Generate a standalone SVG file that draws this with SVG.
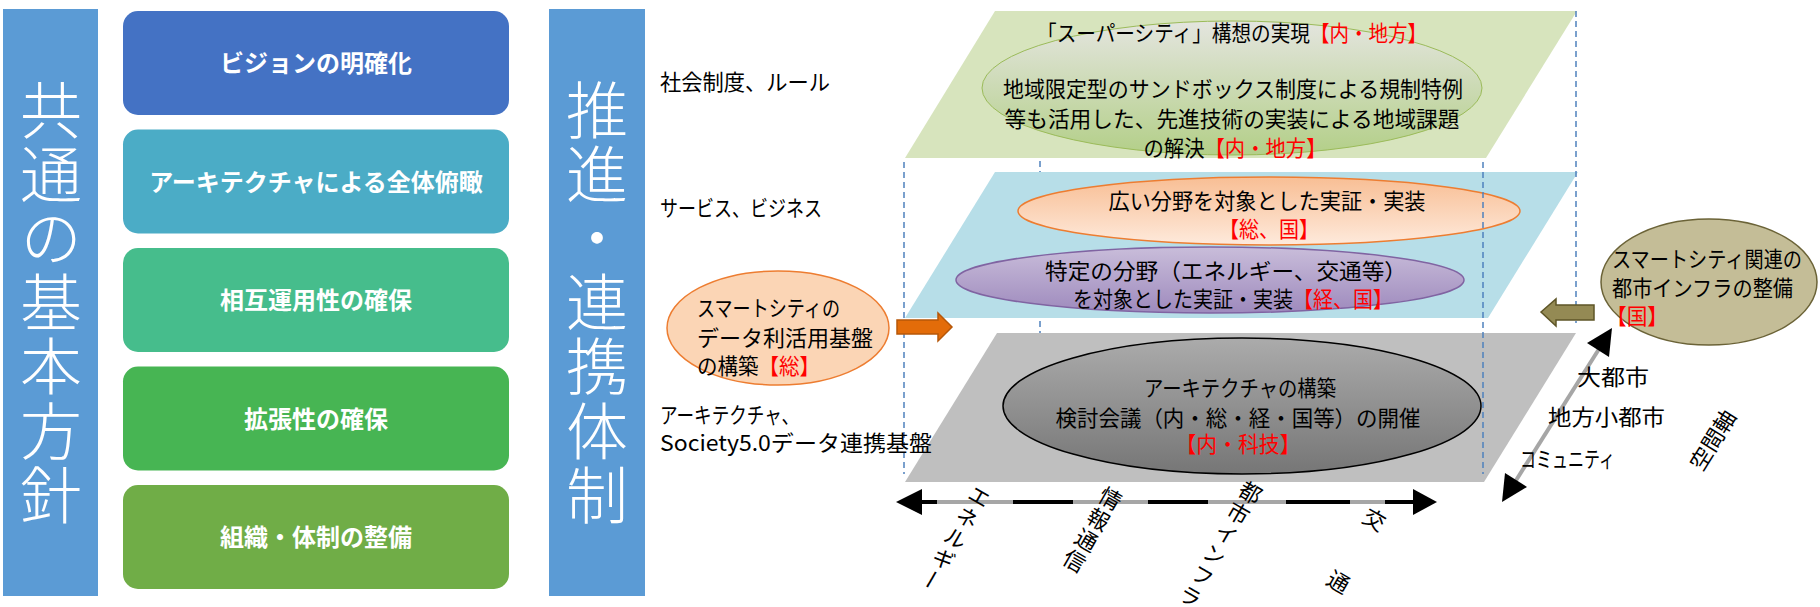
<svg xmlns="http://www.w3.org/2000/svg" width="1820" height="607" viewBox="0 0 1820 607">
<defs>
<style>
.box{font-family:"Noto Sans CJK JP",sans-serif;font-weight:bold;font-size:24px;fill:#fff;text-anchor:middle;}
.bar{font-family:"Noto Sans CJK JP",sans-serif;font-weight:300;font-size:62px;fill:#fff;writing-mode:vertical-rl;letter-spacing:2.2px;}
.t{font-family:"Noto Sans CJK JP",sans-serif;font-size:22px;fill:#000;}
.c{text-anchor:middle;}
.r{fill:#ff0000;}
.dash{stroke:#4f81bd;stroke-width:1.5;stroke-dasharray:6 4;fill:none;}
.vt{font-family:"Noto Sans CJK JP",sans-serif;font-size:22px;fill:#000;writing-mode:vertical-rl;letter-spacing:2px;}
</style>
<linearGradient id="gG" x1="0" y1="0" x2="0" y2="1"><stop offset="0" stop-color="#e4e5df"/><stop offset="1" stop-color="#b3cf88"/></linearGradient>
<linearGradient id="gO" x1="0" y1="0" x2="0" y2="1"><stop offset="0" stop-color="#f8be94"/><stop offset="1" stop-color="#feeadc"/></linearGradient>
<linearGradient id="gP" x1="0" y1="0" x2="0" y2="1"><stop offset="0" stop-color="#c9bdda"/><stop offset="1" stop-color="#9e8abd"/></linearGradient>
<linearGradient id="gK" x1="0" y1="0" x2="0" y2="1"><stop offset="0" stop-color="#ababab"/><stop offset="1" stop-color="#767676"/></linearGradient>
</defs>
<rect width="1820" height="607" fill="#fff"/>

<g id="bar-kihon">
<rect x="3" y="9" width="95" height="587" fill="#5b9bd5"/>
<text class="bar" x="51" y="79">共通の基本方針</text>
</g>
<g id="box1"><rect x="123" y="11" width="386" height="104" rx="15" fill="#4472c4"/><text class="box" x="316" y="72">ビジョンの明確化</text></g>
<g id="box2"><rect x="123" y="129.5" width="386" height="104" rx="15" fill="#4bacc6"/><text class="box" x="316" y="190.5">アーキテクチャによる全体俯瞰</text></g>
<g id="box3"><rect x="123" y="248" width="386" height="104" rx="15" fill="#46bd8c"/><text class="box" x="316" y="309">相互運用性の確保</text></g>
<g id="box4"><rect x="123" y="366.5" width="386" height="104" rx="15" fill="#47b553"/><text class="box" x="316" y="427.5">拡張性の確保</text></g>
<g id="box5"><rect x="123" y="485" width="386" height="104" rx="15" fill="#70ad47"/><text class="box" x="316" y="546">組織・体制の整備</text></g>

<g id="bar-suishin">
<rect x="549" y="9" width="96" height="587" fill="#5b9bd5"/>
<text class="bar" x="597" y="79">推進・連携体制</text>
</g>

<g id="back-edge"><line class="dash" x1="1040" y1="11" x2="1040" y2="333"/></g>

<g id="layer-social">
<polygon points="995,11 1577,11 1486,158 905,158" fill="#d7e4bd"/>
<ellipse cx="1232" cy="88" rx="250" ry="67" fill="url(#gG)" stroke="#9bbb59" stroke-width="1"/>
<text class="t" x="1037" y="41" font-size="21" textLength="273" lengthAdjust="spacingAndGlyphs">「スーパーシティ」構想の実現</text>
<text class="t r" x="1310" y="41" font-size="21" textLength="117" lengthAdjust="spacingAndGlyphs">【内・地方】</text>
<text class="t c" x="1233" y="96.5" textLength="460" lengthAdjust="spacingAndGlyphs">地域限定型のサンドボックス制度による規制特例</text>
<text class="t c" x="1232" y="126.5" textLength="455" lengthAdjust="spacingAndGlyphs">等も活用した、先進技術の実装による地域課題</text>
<text class="t" x="1143.5" y="155.5" textLength="61" lengthAdjust="spacingAndGlyphs">の解決</text>
<text class="t r" x="1204.5" y="155.5" textLength="122" lengthAdjust="spacingAndGlyphs">【内・地方】</text>
</g>

<g id="layer-service">
<polygon points="995,172 1578,172 1488,318 905,318" fill="#b7dee8"/>
<ellipse cx="1269" cy="211" rx="251" ry="34" fill="url(#gO)" stroke="#ed7d31" stroke-width="1.5"/>
<text class="t c" x="1267" y="208.5" textLength="317" lengthAdjust="spacingAndGlyphs">広い分野を対象とした実証・実装</text>
<text class="t c r" x="1269" y="236.5" textLength="100" lengthAdjust="spacingAndGlyphs">【総、国】</text>
<ellipse cx="1210" cy="280" rx="254" ry="33" fill="url(#gP)" stroke="#8064a2" stroke-width="1.5"/>
<text class="t c" x="1226" y="278.5" textLength="362" lengthAdjust="spacingAndGlyphs">特定の分野（エネルギー、交通等）</text>
<text class="t" x="1073" y="306.5" textLength="220" lengthAdjust="spacingAndGlyphs">を対象とした実証・実装</text>
<text class="t r" x="1293" y="306.5" textLength="100" lengthAdjust="spacingAndGlyphs">【経、国】</text>
</g>

<g id="layer-arch">
<polygon points="997,333 1576,333 1484,482 905,482" fill="#bfbfbf"/>
<ellipse cx="1242" cy="406" rx="239" ry="68" fill="url(#gK)" stroke="#000" stroke-width="1.5"/>
<text class="t c" x="1240" y="395.5" textLength="192" lengthAdjust="spacingAndGlyphs">アーキテクチャの構築</text>
<text class="t c" x="1238" y="425.5" textLength="365" lengthAdjust="spacingAndGlyphs">検討会議（内・総・経・国等）の開催</text>
<text class="t c r" x="1238" y="451.5" textLength="125" lengthAdjust="spacingAndGlyphs">【内・科技】</text>
</g>

<g id="front-edges">
<line class="dash" x1="904" y1="162" x2="904" y2="474"/>
<line class="dash" x1="1483" y1="162" x2="1483" y2="474"/>
<line class="dash" x1="1576" y1="11" x2="1576" y2="323"/>
</g>

<g id="labels">
<text class="t" x="660" y="90" textLength="170" lengthAdjust="spacingAndGlyphs">社会制度、ルール</text>
<text class="t" x="660" y="216" textLength="162" lengthAdjust="spacingAndGlyphs">サービス、ビジネス</text>
<text class="t" x="660" y="423" textLength="139" lengthAdjust="spacingAndGlyphs">アーキテクチャ、</text>
<text class="t" x="660" y="451" textLength="272" lengthAdjust="spacingAndGlyphs">Society5.0データ連携基盤</text>
</g>

<g id="data-platform">
<ellipse cx="778" cy="328" rx="111" ry="57" fill="#fbd5b5" stroke="#ed7d31" stroke-width="1.5"/>
<text class="t" x="697" y="315.5" textLength="143" lengthAdjust="spacingAndGlyphs">スマートシティの</text>
<text class="t" x="697" y="345.5" textLength="176" lengthAdjust="spacingAndGlyphs">データ利活用基盤</text>
<text class="t" x="697" y="373.5" textLength="61.5" lengthAdjust="spacingAndGlyphs">の構築</text>
<text class="t r" x="758.5" y="373.5" textLength="61.5" lengthAdjust="spacingAndGlyphs">【総】</text>
</g>

<g id="infra">
<ellipse cx="1709" cy="282" rx="108" ry="63" fill="#c4bd97" stroke="#6b6337" stroke-width="1.5"/>
<text class="t" x="1612" y="266.5" textLength="190" lengthAdjust="spacingAndGlyphs">スマートシティ関連の</text>
<text class="t" x="1612" y="295.5" textLength="181" lengthAdjust="spacingAndGlyphs">都市インフラの整備</text>
<text class="t r" x="1606" y="323.5" textLength="62" lengthAdjust="spacingAndGlyphs">【国】</text>
</g>

<g id="connectors">
<path d="M897,320 H938 V313 L952,327 L938,341 V334 H897 Z" fill="#e36c09" stroke="#b65708" stroke-width="1.5"/>
<path d="M1541,312 L1556,299 V305 H1594 V320 H1556 V326 Z" fill="#948a54" stroke="#5e5527" stroke-width="1.5"/>
<line x1="920" y1="502" x2="1416" y2="502" stroke="#a6a6a6" stroke-width="4"/>
<path d="M920,502 H937 M1013,502 H1073 M1148,502 H1208 M1286,502 H1350 M1385,502 H1416" stroke="#000" stroke-width="4"/>
<polygon points="896,502 922,489 922,515" fill="#000"/>
<polygon points="1437,502 1413,489 1413,515" fill="#000"/>
<line x1="1599" y1="349" x2="1515" y2="482" stroke="#a6a6a6" stroke-width="4"/>
<polygon points="1612,328 1609,357 1587,343" fill="#000"/>
<polygon points="1502,502 1527,487 1505,473" fill="#000"/>
</g>

<g id="axis-labels">
<text class="t" x="1577" y="385" textLength="72" lengthAdjust="spacingAndGlyphs">大都市</text>
<text class="t" x="1548" y="425" textLength="117" lengthAdjust="spacingAndGlyphs">地方小都市</text>
<text class="t" x="1520" y="467" font-size="18" textLength="95" lengthAdjust="spacingAndGlyphs">コミュニティ</text>
<text class="t c" transform="translate(1713,440) rotate(-58)" x="0" y="8" font-size="21">空間軸</text>
<text class="vt" transform="translate(985,487) rotate(30)" x="0" y="0">エネルギー</text>
<text class="vt" transform="translate(1116,489) rotate(30)" x="0" y="0">情報通信</text>
<text class="vt" transform="translate(1256,483) rotate(30)" x="0" y="0">都市インフラ</text>
<text class="vt" transform="translate(1380,510) rotate(30)" x="0" y="0">交　　通</text>
</g>
</svg>
